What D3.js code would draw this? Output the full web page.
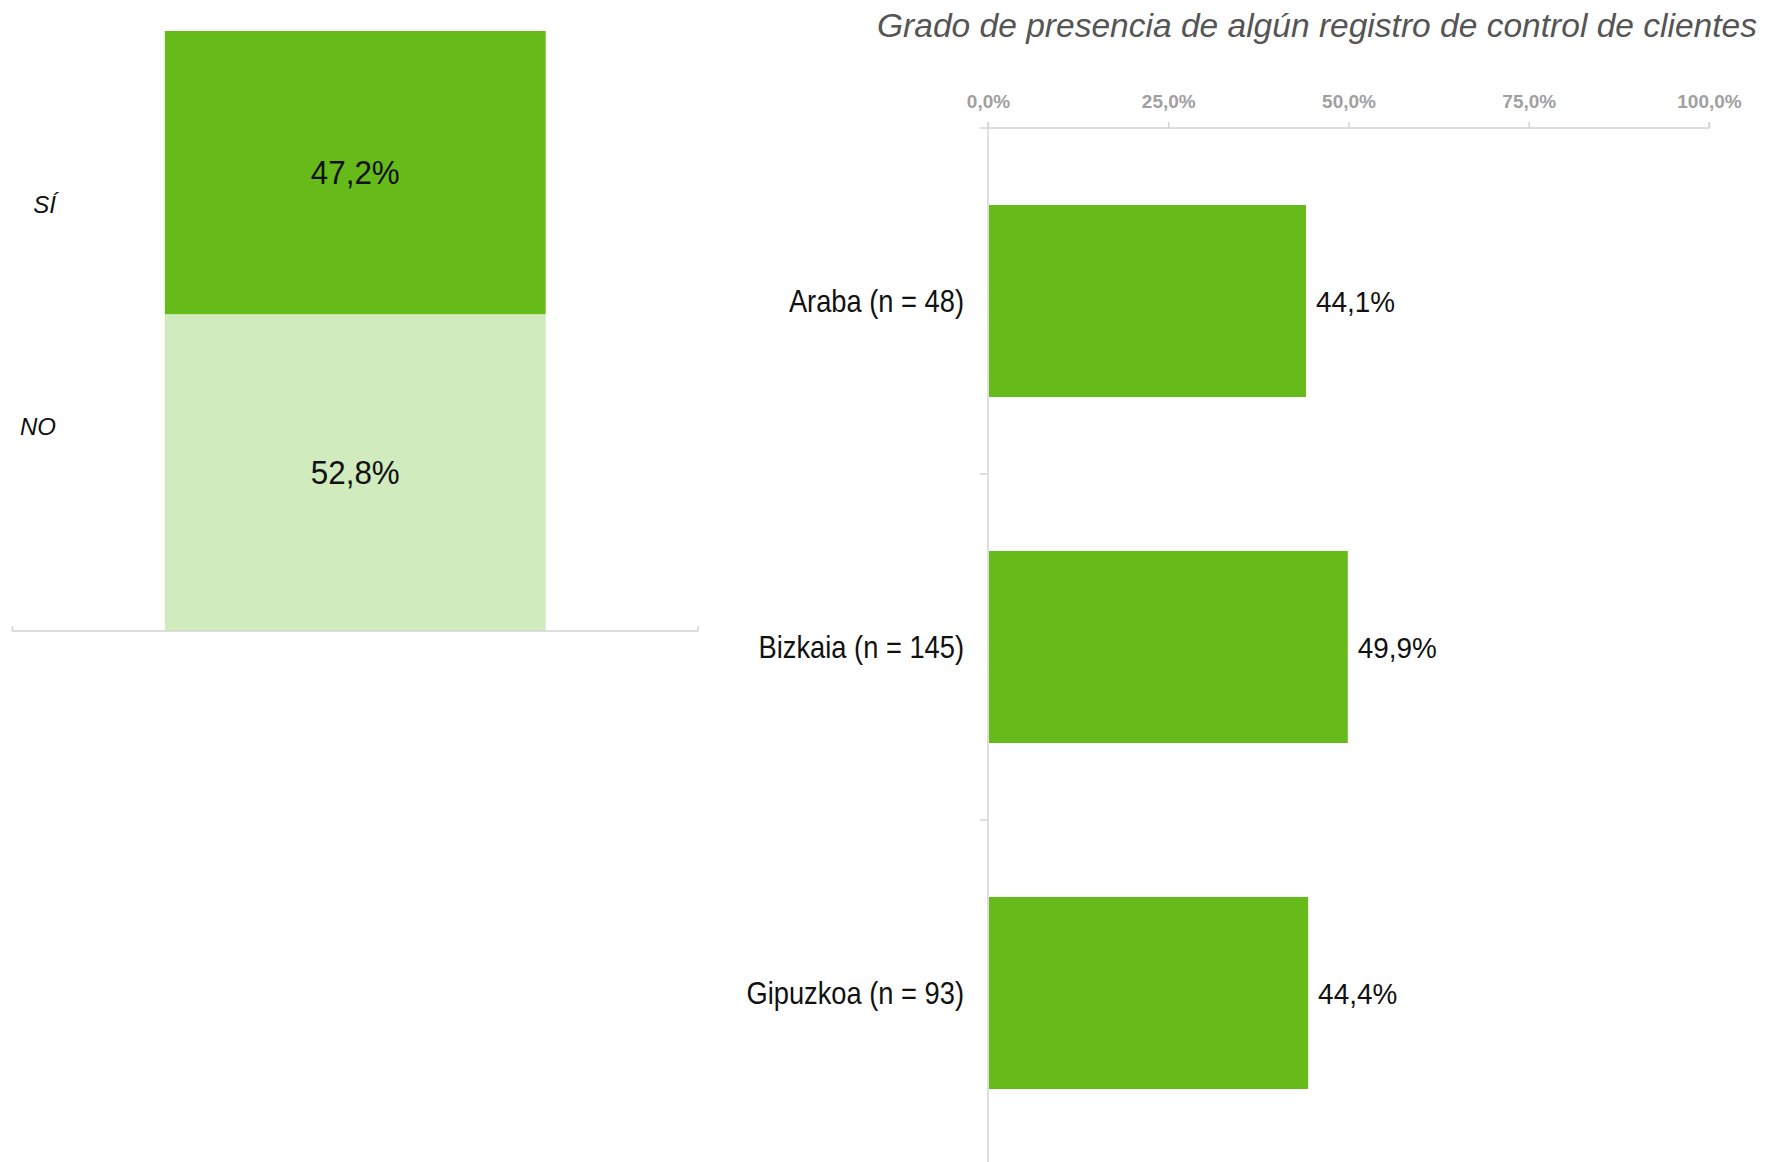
<!DOCTYPE html>
<html>
<head>
<meta charset="utf-8">
<script src="https://cdn.jsdelivr.net/npm/d3@7"></script>
<style>
  html, body { margin: 0; padding: 0; background: #fff; }
  svg { display: block; }
  .lbl { font-family: "Liberation Sans", Arial, sans-serif; }
</style>
</head>
<body>
<svg id="chart" width="1780" height="1162"></svg>
<script>
// Overall share: stacked column
const totalCategories = ["NO", "SÍ"];
const totalValues = [52.8, 47.2];
const totalColors = ["#d0ebbd", "#66bb1a"];

// By territory: horizontal bars
const territories = ["Araba (n = 48)", "Bizkaia (n = 145)", "Gipuzkoa (n = 93)"];
const territoryValues = [44.1, 49.9, 44.4];
const axisTicks = [0, 25, 50, 75, 100];

const title = "Grado de presencia de algún registro de control de clientes";

const fmt = v => v.toFixed(1).replace(".", ",") + "%";

const svg = d3.select("#chart");
const gridColor = "#d4d4d4";

// Places a text at (x, y) with a horizontal squeeze so it reads as a condensed face
function placeCondensed(sel, xFn, yFn, sx) {
  sel.attr("x", 0).attr("y", 0)
    .attr("transform", (d, i) => `translate(${xFn(d, i)},${yFn(d, i)}) scale(${sx},1)`);
}

// ---------- Left: stacked column ----------
const left = svg.append("g");
const xL = d3.scaleBand().domain(["total"]).range([12.5, 698]).paddingInner(0).paddingOuter(0.4);
const yL = d3.scaleLinear().domain([0, 100]).range([631, 31]);

let acc = 0;
const stacked = totalValues.map((v, i) => {
  const s = { key: totalCategories[i], y0: acc, y1: acc + v, value: v, color: totalColors[i] };
  acc += v;
  return s;
});

left.selectAll("rect.seg")
  .data(stacked)
  .join("rect")
  .attr("class", "seg")
  .attr("x", xL("total"))
  .attr("width", xL.bandwidth())
  .attr("y", d => yL(d.y1))
  .attr("height", d => yL(d.y0) - yL(d.y1))
  .attr("fill", d => d.color);

left.selectAll("text.segval")
  .data(stacked)
  .join("text")
  .attr("class", "segval lbl")
  .attr("dy", "0.35em")
  .attr("text-anchor", "middle")
  .attr("font-size", 33)
  .attr("fill", "#111")
  .text(d => fmt(d.value))
  .call(placeCondensed, () => xL("total") + xL.bandwidth() / 2, d => yL((d.y0 + d.y1) / 2), 0.95);

// category labels sit to the left of the column
const catLabelY = { "SÍ": 213, "NO": 435 };
left.selectAll("text.cat")
  .data(stacked)
  .join("text")
  .attr("class", "cat lbl")
  .attr("x", 56)
  .attr("y", d => catLabelY[d.key])
  .attr("text-anchor", "end")
  .attr("font-size", 24)
  .attr("font-style", "italic")
  .attr("fill", "#111")
  .text(d => d.key);

// baseline
const baseY = yL(0);
left.append("path")
  .attr("d", `M12.5,${baseY - 5}V${baseY}H698V${baseY - 5}`)
  .attr("fill", "none")
  .attr("stroke", gridColor)
  .attr("stroke-width", 1.5);

// ---------- Right: horizontal bars ----------
const right = svg.append("g");
const x = d3.scaleLinear().domain([0, 100]).range([988, 1709]);
const y = d3.scaleBand().domain(territories).range([128, 1166]).paddingInner(0.445).paddingOuter(0.2225);

// title
right.append("text")
  .attr("class", "lbl")
  .attr("x", 877)
  .attr("y", 37)
  .attr("font-size", 34)
  .attr("font-style", "italic")
  .attr("fill", "#555")
  .attr("textLength", 880)
  .attr("lengthAdjust", "spacingAndGlyphs")
  .text(title);

// top axis
const xAxis = d3.axisTop(x)
  .tickValues(axisTicks)
  .tickSize(6)
  .tickPadding(14)
  .tickFormat(d => fmt(d));
const gx = right.append("g")
  .attr("transform", "translate(0,128)")
  .call(xAxis);
gx.select(".domain").attr("stroke", gridColor).attr("stroke-width", 1.5)
  .attr("d", `M${x(0)},-6V0H${x(100)}V-6`);
gx.selectAll(".tick line").attr("stroke", gridColor).attr("stroke-width", 1.5);
gx.selectAll(".tick text")
  .attr("class", "lbl")
  .attr("font-family", "'Liberation Sans', Arial, sans-serif")
  .attr("font-size", 19)
  .attr("font-weight", "bold")
  .attr("fill", "#a0a0a0");

// vertical axis at zero with ticks on band boundaries
right.append("line")
  .attr("x1", x(0)).attr("x2", x(0))
  .attr("y1", 128).attr("y2", 1166)
  .attr("stroke", gridColor).attr("stroke-width", 1.5);
const boundaries = territories.map((t, i) => y.range()[0] + i * y.step());
right.selectAll("line.bt")
  .data(boundaries)
  .join("line")
  .attr("class", "bt")
  .attr("x1", x(0) - 8).attr("x2", x(0))
  .attr("y1", d => d).attr("y2", d => d)
  .attr("stroke", gridColor).attr("stroke-width", 1.5);

// bars
right.selectAll("rect.bar")
  .data(territories)
  .join("rect")
  .attr("class", "bar")
  .attr("x", x(0) + 1)
  .attr("y", d => y(d))
  .attr("height", y.bandwidth())
  .attr("width", (d, i) => x(territoryValues[i]) - x(0) - 1)
  .attr("fill", "#66bb1a");

// value labels
right.selectAll("text.val")
  .data(territories)
  .join("text")
  .attr("class", "val lbl")
  .attr("dy", "0.35em")
  .attr("font-size", 30)
  .attr("fill", "#111")
  .text((d, i) => fmt(territoryValues[i]))
  .call(placeCondensed, (d, i) => x(territoryValues[i]) + 10, d => y(d) + y.bandwidth() / 2, 0.93);

// category labels
right.selectAll("text.terr")
  .data(territories)
  .join("text")
  .attr("class", "terr lbl")
  .attr("dy", "0.35em")
  .attr("text-anchor", "end")
  .attr("font-size", 31)
  .attr("fill", "#111")
  .text(d => d)
  .call(placeCondensed, () => 964, d => y(d) + y.bandwidth() / 2, 0.88);
</script>
</body>
</html>
